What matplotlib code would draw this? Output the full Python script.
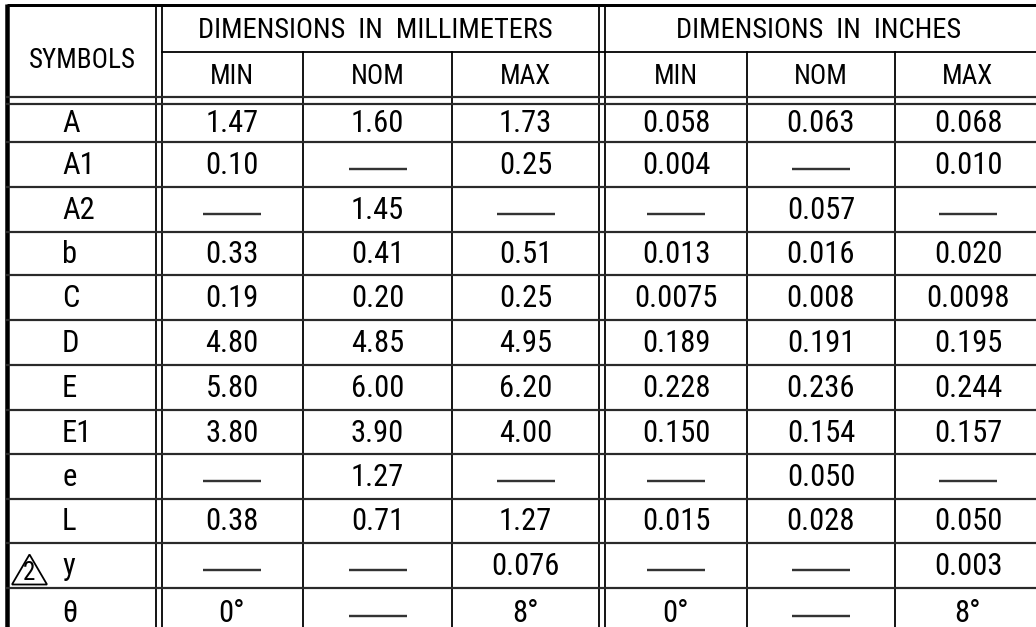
import matplotlib
matplotlib.use("Agg")
import matplotlib.pyplot as plt
from matplotlib.patches import Polygon
from matplotlib import font_manager

# ---------------- data ----------------
symbols = ['A', 'A1', 'A2', 'b', 'C', 'D', 'E', 'E1', 'e', 'L', 'y', 'θ']
mm_min = ['1.47', '0.10', '—', '0.33', '0.19', '4.80', '5.80', '3.80', '—', '0.38', '—', '0°']
mm_nom = ['1.60', '—', '1.45', '0.41', '0.20', '4.85', '6.00', '3.90', '1.27', '0.71', '—', '—']
mm_max = ['1.73', '0.25', '—', '0.51', '0.25', '4.95', '6.20', '4.00', '—', '1.27', '0.076', '8°']
in_min = ['0.058', '0.004', '—', '0.013', '0.0075', '0.189', '0.228', '0.150', '—', '0.015', '—', '0°']
in_nom = ['0.063', '—', '0.057', '0.016', '0.008', '0.191', '0.236', '0.154', '0.050', '0.028', '—', '—']
in_max = ['0.068', '0.010', '—', '0.020', '0.0098', '0.195', '0.244', '0.157', '—', '0.050', '0.003', '8°']
group_titles = ['DIMENSIONS  IN  MILLIMETERS', 'DIMENSIONS  IN  INCHES']
sub_titles = ['MIN', 'NOM', 'MAX']
symbol_title = 'SYMBOLS'
noted_symbol = 'y'   # symbol carrying note flag "2"

# ---------------- layout (pixels) ----------------
W, H = 1036, 627
row_edges = [104, 142, 187, 232, 275, 320, 365, 410, 454, 499, 543, 588, 633]
sub_cols = [(161, 303), (303, 452), (452, 599), (605, 747), (747, 895), (895, 1041)]
sym_left = 62

# pick a narrow face if one is installed
narrow = None
for f in font_manager.fontManager.ttflist:
    fn = f.fname.lower()
    if ('narrow' in fn or 'condensed' in fn) and 'bold' not in fn and 'oblique' not in fn and 'italic' not in fn:
        narrow = f.fname
        if 'liberation' in fn:
            break

def T(x, y, s, size, **kw):
    if narrow:
        p = font_manager.FontProperties(fname=narrow, size=size)
        return ax.text(x, y, s, fontproperties=p, **kw)
    return ax.text(x, y, s, fontsize=size * 0.95, family=['Liberation Sans', 'DejaVu Sans'], **kw)

fig = plt.figure(figsize=(W / 100, H / 100), dpi=100)
ax = fig.add_axes([0, 0, 1, 1])
ax.set_xlim(0, W)
ax.set_ylim(H, 0)
ax.axis('off')

px = 0.72  # points per pixel
K = 'black'
G = '#2a2a2a'

# outer borders
ax.plot([7, W], [5, 5], color=K, lw=3 * px, solid_capstyle='butt')
ax.plot([7, 7], [4, H], color=K, lw=4.5 * px, solid_capstyle='butt')
# double verticals
for x in (155.5, 161.5, 599, 605):
    ax.plot([x, x], [5, H], color=K, lw=1.8 * px)
# single verticals inside groups
for x in (303, 452, 747, 895):
    ax.plot([x, x], [52, H], color=K, lw=1.8 * px)
# header middle line
ax.plot([161.5, W], [52, 52], color=K, lw=1.8 * px)
# header double line
for y in (97, 104):
    ax.plot([7, W], [y, y], color=G, lw=2.2 * px)
# row separators
for y in row_edges[1:-1]:
    ax.plot([7, W], [y, y], color=G, lw=2.2 * px)

gs = 20.5
hs = 19.5
ds = 22
# header texts
T(82, 61, symbol_title, hs, ha='center', va='center')
T((161 + 599) / 2 - 5, 31, group_titles[0], gs, ha='center', va='center')
T((605 + 1036) / 2 - 2, 31, group_titles[1], gs, ha='center', va='center')
for i, (a, b) in enumerate(sub_cols):
    T((a + b) / 2, 76, sub_titles[i % 3], hs, ha='center', va='center')

# data cells
columns = [mm_min, mm_nom, mm_max, in_min, in_nom, in_max]
for r in range(len(symbols)):
    y0, y1 = row_edges[r], row_edges[r + 1]
    yc = (y0 + y1) / 2
    if r == len(symbols) - 1:
        yc = 612
    T(sym_left, yc + 1, symbols[r], ds, ha='left', va='center')
    if symbols[r] == noted_symbol:
        tri = Polygon([[12, yc + 19], [47, yc + 19], [29.5, yc - 11]], closed=True,
                      fill=False, edgecolor=K, lw=1.8 * px)
        ax.add_patch(tri)
        T(29.5, yc + 8, '2', 18, ha='center', va='center')
    for c, col in enumerate(columns):
        a, b = sub_cols[c]
        xc = (a + b) / 2
        v = col[r]
        if v == '—':
            ax.plot([xc - 29, xc + 29], [yc + 4, yc + 4], color='#333333', lw=2.4 * px, solid_capstyle='butt')
        else:
            T(xc, yc + 1, v, ds, ha='center', va='center')

fig.savefig('out.png', dpi=100)
